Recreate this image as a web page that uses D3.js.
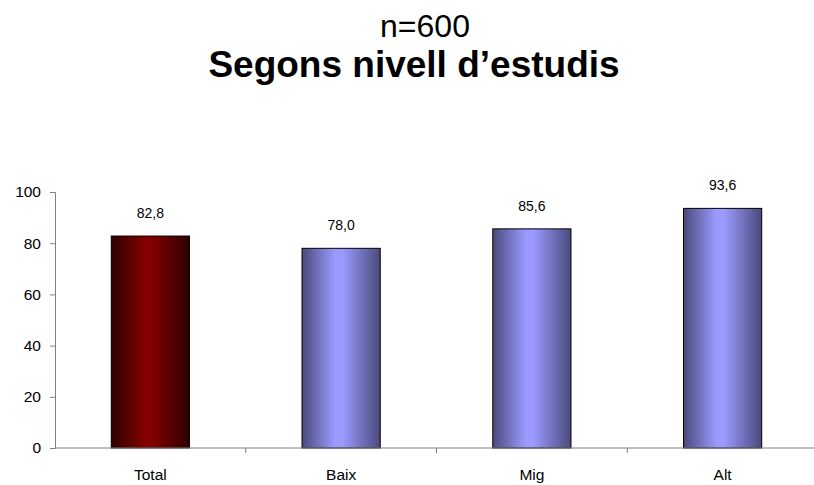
<!DOCTYPE html>
<html>
<head>
<meta charset="utf-8">
<script src="https://cdn.jsdelivr.net/npm/d3@7"></script>
<style>
  html, body { margin: 0; padding: 0; background: #fff; }
  svg { display: block; font-family: "Liberation Sans", Arial, sans-serif; }
</style>
</head>
<body>
<svg id="chart" width="814" height="485"></svg>
<script>
const categories = ["Total", "Baix", "Mig", "Alt"];
const values = [82.8, 78.0, 85.6, 93.6];
const valueLabels = ["82,8", "78,0", "85,6", "93,6"];
const yTicks = [0, 20, 40, 60, 80, 100];
const subtitle = "n=600";
const title = "Segons nivell d\u2019estudis";

const svg = d3.select("#chart");
const defs = svg.append("defs");

function grad(id, edge, mid) {
  const g = defs.append("linearGradient").attr("id", id)
    .attr("x1", "0%").attr("x2", "100%").attr("y1", "0%").attr("y2", "0%");
  g.append("stop").attr("offset", "0%").attr("stop-color", edge);
  g.append("stop").attr("offset", "42%").attr("stop-color", mid);
  g.append("stop").attr("offset", "52%").attr("stop-color", mid);
  g.append("stop").attr("offset", "100%").attr("stop-color", edge);
}
grad("gRed", "#2e0000", "#820000");
grad("gBlue", "#4a4a7c", "#9a9aff");

const x = d3.scaleBand().domain(categories).range([55, 818])
  .paddingInner(0.59).paddingOuter(0.295);
const y = d3.scaleLinear().domain([0, 100]).range([448, 192]);

// Titles
svg.append("text").attr("x", 425).attr("y", 37).attr("text-anchor", "middle")
  .attr("font-size", 32).attr("fill", "#000").text(subtitle);
svg.append("text").attr("x", 414).attr("y", 77).attr("text-anchor", "middle")
  .attr("font-size", 37).attr("font-weight", "bold").attr("fill", "#000").text(title);

// Bars
svg.append("g").selectAll("rect").data(categories).join("rect")
  .attr("x", d => x(d))
  .attr("y", (d, i) => y(values[i]))
  .attr("width", x.bandwidth())
  .attr("height", (d, i) => y(0) - y(values[i]))
  .attr("fill", (d, i) => i === 0 ? "url(#gRed)" : "url(#gBlue)")
  .attr("stroke", "#000").attr("stroke-width", 1);

// Value labels
svg.append("g").selectAll("text").data(categories).join("text")
  .attr("x", d => x(d) + x.bandwidth() / 2)
  .attr("y", (d, i) => y(values[i]) - 18)
  .attr("text-anchor", "middle").attr("font-size", 14).attr("fill", "#000")
  .text((d, i) => valueLabels[i]);

// Y axis
const yAxis = svg.append("g").attr("transform", "translate(55,0)")
  .call(d3.axisLeft(y).tickValues(yTicks).tickSize(5).tickPadding(9).tickFormat(d3.format("d")));
yAxis.select(".domain").attr("stroke", "#808080");
yAxis.selectAll(".tick line").attr("stroke", "#808080");
yAxis.selectAll(".tick text").attr("font-size", 15.5).attr("fill", "#000")
  .attr("font-family", "'Liberation Sans', Arial, sans-serif");

// X axis
const boundaries = categories.map(c => x(c) - x.step() * x.paddingInner() / 2);
boundaries.push(x.range()[1]);
const xg = svg.append("g").attr("transform", `translate(0,${y(0)})`);
xg.append("line").attr("x1", x.range()[0]).attr("x2", x.range()[1])
  .attr("y1", 0).attr("y2", 0).attr("stroke", "#808080");
xg.selectAll("line.tk").data(boundaries.slice(1)).join("line").attr("class", "tk")
  .attr("x1", d => d).attr("x2", d => d).attr("y1", 0).attr("y2", 5)
  .attr("stroke", "#808080");
xg.selectAll("text").data(categories).join("text")
  .attr("x", d => x(d) + x.bandwidth() / 2).attr("y", 32)
  .attr("text-anchor", "middle").attr("font-size", 15.5).attr("fill", "#000")
  .text(d => d);
</script>
</body>
</html>
